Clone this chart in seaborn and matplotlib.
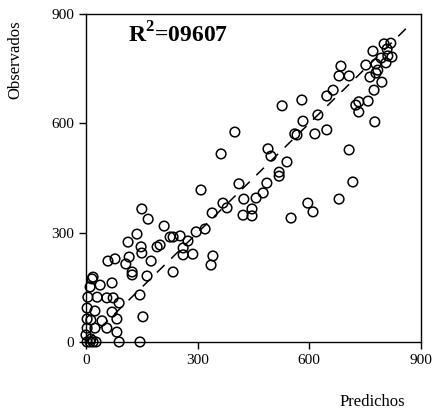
import numpy as np
import pandas as pd
import seaborn as sns
import matplotlib
matplotlib.use('Agg')
import matplotlib.pyplot as plt

predichos = [819, 801, 809, 771, 811, 793, 822, 779, 806, 752, 685, 784, 680, 707, 763,
             779, 795, 774, 664, 647, 758, 733, 725, 733, 580, 527, 623, 583, 776, 400,
             567, 615, 647, 561, 363, 489, 497, 540, 519, 519, 707, 717, 411, 424, 457,
             476, 486, 368, 379, 309, 339, 422, 446, 446, 551, 596, 610, 680, 150, 167,
             210, 137, 113, 148, 150, 226, 234, 253, 274, 296, 320, 191, 199, 261, 261,
             287, 341, 336, 59, 78, 116, 107, 175, 124, 124, 164, 234, 19, 16, 38,
             70, 11, 5, 30, 56, 73, 89, 145, 3, 24, 70, 3, 13, 43, 83,
             153, 24, 3, 56, 83, 0, 13, 3, 11, 19, 27, 89, 145]
observados = [820, 818, 804, 798, 785, 779, 782, 763, 766, 760, 757, 746, 730, 730, 727,
              738, 713, 691, 691, 675, 661, 659, 650, 631, 664, 648, 623, 606, 604, 576,
              568, 571, 582, 571, 516, 530, 510, 494, 466, 455, 527, 439, 434, 392, 395,
              409, 436, 381, 368, 417, 354, 348, 365, 346, 340, 381, 357, 392, 365, 337,
              318, 296, 274, 261, 244, 288, 288, 291, 277, 302, 310, 261, 266, 258, 239,
              241, 236, 211, 222, 228, 233, 214, 222, 192, 184, 181, 192, 178, 173, 156,
              162, 151, 123, 123, 121, 121, 107, 129, 93, 85, 82, 63, 60, 58, 63,
              69, 38, 38, 38, 27, 19, 8, 0, 0, 0, 0, 0, 0]
linea_11 = [0, 870]
ticks = [0, 300, 600, 900]
r2_text = r'$\mathbf{R}^{\mathbf{2}}$=09607'

df = pd.DataFrame({'Predichos': predichos, 'Observados': observados})

sns.set_style('ticks')
plt.rcParams['font.family'] = ['Liberation Serif', 'DejaVu Serif']
plt.rcParams['text.color'] = 'black'
plt.rcParams['mathtext.fontset'] = 'custom'
plt.rcParams['mathtext.rm'] = 'Liberation Serif'
plt.rcParams['mathtext.bf'] = 'Liberation Serif:bold'

fig = plt.figure(figsize=(4.35, 4.12), dpi=100)
ax = fig.add_axes([0.1977, 0.170, 0.770, 0.796])

# 1:1 reference line
ax.plot(linea_11, linea_11, color='black', lw=1.1, dashes=(7, 6))

sns.scatterplot(data=df, x='Predichos', y='Observados', ax=ax, marker='o', s=48,
                color='black', linewidth=1.1, clip_on=False, zorder=3)
ax.collections[-1].set_facecolor('none')
ax.collections[-1].set_edgecolor('black')

ax.set_xlim(0, 900)
ax.set_ylim(0, 900)
ax.set_xticks(ticks)
ax.set_yticks(ticks)
ax.tick_params(direction='out', length=5, width=1, labelsize=11, colors='black')
for s in ax.spines.values():
    s.set_color('black')
    s.set_linewidth(1)
ax.set_xlabel('')
ax.set_ylabel('')

ax.text(0.125, 0.935, r2_text, transform=ax.transAxes, fontsize=17, fontweight='bold',
        va='center', ha='left', color='black')
fig.text(15 / 435, 1 - 60 / 412, 'Observados', rotation=90, fontsize=12, ha='center',
         va='center', color='black')
fig.text(372 / 435, 1 - 402 / 412, 'Predichos', fontsize=12, ha='center', va='center',
         color='black')

plt.savefig('out.png', dpi=100)
